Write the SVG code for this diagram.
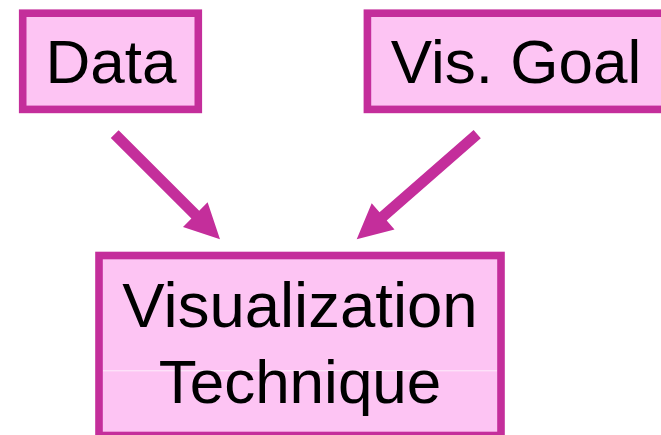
<svg xmlns="http://www.w3.org/2000/svg" width="661" height="435" viewBox="0 0 661 435">
  <style>
    .box { fill: #FDC4F3; stroke: #C42E9B; stroke-width: 7.6; }
    .label { font-family: "Liberation Sans", Arial, sans-serif; font-size: 62px; fill: #000; text-anchor: middle; }
    .wide { font-size: 63.5px; }
    .arrow { fill: #C42E9B; stroke: none; }
  </style>
  <rect width="661" height="435" fill="#fff"/>

  <g id="data">
    <rect class="box" x="22.7" y="13.2" width="175.6" height="96.2"/>
    <text class="label" x="111" y="83">Data</text>
  </g>

  <g id="vis-goal">
    <rect class="box" x="367.4" y="13.2" width="305" height="96.2"/>
    <text class="label" x="516" y="83">Vis. Goal</text>
  </g>

  <g id="vis-technique">
    <rect class="box" x="99" y="255.5" width="402" height="180"/>
    <line x1="103" y1="370.8" x2="497" y2="370.8" stroke="#fff" stroke-width="0.8" opacity="0.9"/>
    <text class="label wide" x="300" y="327">Visualization</text>
    <text class="label" x="300" y="403">Technique</text>
  </g>

  <g id="connectors">
    <polygon class="arrow" points="118.6,130.3 199.2,210.7 207.6,202.3 220,239.3 183,226.9 191.4,218.5 110.8,138.1"/>
    <polygon class="arrow" points="480.8,138.3 386.7,220.4 394.5,229.4 356.7,239.3 371.7,203.2 379.5,212.2 473.6,130.1"/>
  </g>
</svg>
